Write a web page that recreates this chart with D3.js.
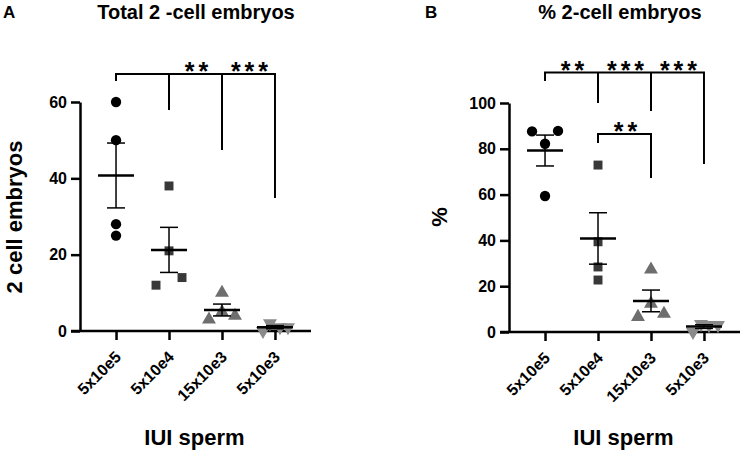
<!DOCTYPE html>
<html>
<head>
<meta charset="utf-8">
<script src="https://cdn.jsdelivr.net/npm/d3@7"></script>
<style>
  body { margin: 0; background: #fff; }
  text { font-family: "Liberation Sans", Arial, sans-serif; }
</style>
</head>
<body>
<script>
const width = 743
const height = 454

// data
const categories = ["5x10e5", "5x10e4", "15x10e3", "5x10e3"];
const totalEmbryos = [[60, 50, 28, 25], [38, 21, 12, 14], [10, 5, 3, 4], [2, 0, 1, 1]];
const pctEmbryos = [[87.6, 87.8, 82.2, 59.4], [72.9, 39.4, 28.4, 22.7], [27.3, 12.4, 6.6, 8], [0, 3.5, 3, 3]];
const ticksA = [0, 20, 40, 60];
const ticksB = [0, 20, 40, 60, 80, 100];
const sigA = [{a: 0, b: 1, label: ""}, {a: 1, b: 2, label: "**"}, {a: 2, b: 3, label: "***"}];
const sigB = [{a: 0, b: 1, label: "**"}, {a: 1, b: 2, label: "***"}, {a: 2, b: 3, label: "***"}];
const sigB2 = [{a: 1, b: 2, label: "**"}];

// layout only (px spread of overlapping points)
const jitterA = [[0, 0, 0, 0], [0, 0, -13, 13], [0, 0, -13, 13], [-5, -12, 5, 13]];
const jitterB = [[-13, 13, 0, 0], [0, 0, 0, 0], [0, 0, -13, 13], [-11, -3, 5, 14]];

const shapes = [d3.symbolCircle, d3.symbolSquare, d3.symbolTriangle, d3.symbolTriangle];
const fills = ["#000", "#383838", "#6e6e6e", "#8a8a8a"];
const sizes = [84, 80, 84, 84];

const svg = d3.select("body").append("svg")
    .attr("width", width)
    .attr("height", height);

function drawPanel(p) {
    const g = svg.append("g");

    const x = d3.scalePoint().domain(categories).range([p.left, p.right]).padding(0.68);
    const y = d3.scaleLinear().domain([0, p.max]).range([p.bottom, p.top]);

    // y axis
    const yAxis = g.append("g")
        .attr("transform", `translate(${p.left},0)`)
        .call(d3.axisLeft(y).tickValues(p.ticks).tickSize(9).tickSizeOuter(0).tickPadding(4));
    yAxis.select(".domain").attr("stroke-width", 2.5);
    yAxis.selectAll(".tick line").attr("stroke-width", 2.5);
    yAxis.selectAll(".tick text")
        .style("font-size", "16px").style("font-weight", "bold")
        .style("font-family", "Liberation Sans, Arial, sans-serif").attr("fill", "#000");

    // x axis
    const xAxis = g.append("g")
        .attr("transform", `translate(0,${p.bottom})`)
        .call(d3.axisBottom(x).tickSize(9).tickSizeOuter(0).tickFormat(""));
    xAxis.select(".domain").attr("d", `M${p.left - 9},0H${p.right}`).attr("stroke-width", 2.5);
    xAxis.selectAll(".tick line").attr("stroke-width", 2.5);

    g.selectAll(".xlab")
        .data(categories)
        .enter().append("text")
        .attr("transform", d => `translate(${x(d) + 6},${p.bottom + 27}) rotate(-45)`)
        .attr("text-anchor", "end")
        .style("font-size", "16px").style("font-weight", "bold")
        .text(d => d);

    // points
    p.values.forEach((vals, i) => {
        g.selectAll(null)
            .data(vals)
            .enter().append("path")
            .attr("d", d3.symbol().type(shapes[i]).size(sizes[i]))
            .attr("transform", (d, j) => `translate(${x(categories[i]) + p.jitter[i][j]},${y(d)})` + (i === 3 ? " rotate(180)" : ""))
            .attr("fill", fills[i]);
    });

    // mean and SEM
    p.values.forEach((vals, i) => {
        const m = d3.mean(vals);
        const sem = d3.deviation(vals) / Math.sqrt(vals.length);
        const cx = x(categories[i]);
        g.append("line").attr("x1", cx).attr("x2", cx)
            .attr("y1", y(m - sem)).attr("y2", y(m + sem))
            .attr("stroke", "#000").attr("stroke-width", 1.5);
        [m - sem, m + sem].forEach(v => {
            g.append("line").attr("x1", cx - 9).attr("x2", cx + 9)
                .attr("y1", y(v)).attr("y2", y(v))
                .attr("stroke", "#000").attr("stroke-width", 1.5);
        });
        g.append("line").attr("x1", cx - 18).attr("x2", cx + 18)
            .attr("y1", y(m)).attr("y2", y(m))
            .attr("stroke", "#000").attr("stroke-width", 2.5);
    });

    // significance brackets
    p.brackets.forEach(br => {
        const xs = categories.map(c => x(c));
        const first = br.sig[0].a;
        const last = br.sig[br.sig.length - 1].b;
        g.append("line")
            .attr("x1", xs[first] - 1).attr("x2", xs[last] + 1)
            .attr("y1", br.y).attr("y2", br.y)
            .attr("stroke", "#000").attr("stroke-width", 2);
        br.legs.forEach((yb, k) => {
            const cx = xs[first + k];
            g.append("line").attr("x1", cx).attr("x2", cx)
                .attr("y1", br.y).attr("y2", yb)
                .attr("stroke", "#000").attr("stroke-width", 2);
        });
        br.sig.forEach(s => {
            g.append("text")
                .attr("x", (xs[s.a] + xs[s.b]) / 2 + 3)
                .attr("y", br.y + 6)
                .attr("text-anchor", "middle")
                .style("font-size", "25px")
                .style("font-weight", "bold")
                .style("letter-spacing", "4px")
                .text(s.label);
        });
    });

    // titles and labels
    svg.append("text").attr("x", p.letterX).attr("y", 18)
        .style("font-size", "17px").style("font-weight", "bold").text(p.letter);
    svg.append("text").attr("x", p.titleX).attr("y", 19)
        .attr("text-anchor", "middle")
        .style("font-size", "20px").style("font-weight", "bold").text(p.title);
    svg.append("text")
        .attr("transform", `translate(${p.ylabX},217) rotate(-90)`)
        .attr("text-anchor", "middle")
        .style("font-size", "22px").style("font-weight", "bold").text(p.ylab);
    svg.append("text").attr("x", (p.left + p.right) / 2 - 1).attr("y", 445)
        .attr("text-anchor", "middle")
        .style("font-size", "22px").style("font-weight", "bold").text("IUI sperm");
}

drawPanel({
    left: 80, right: 311, top: 102, bottom: 331, max: 60, ticks: ticksA,
    values: totalEmbryos, jitter: jitterA,
    brackets: [{sig: sigA, y: 74, legs: [81, 110, 150, 198]}],
    letter: "A", letterX: 3, title: "Total 2 -cell embryos", titleX: 196,
    ylab: "2 cell embryos", ylabX: 22
});

drawPanel({
    left: 509, right: 740, top: 103, bottom: 332, max: 100, ticks: ticksB,
    values: pctEmbryos, jitter: jitterB,
    brackets: [{sig: sigB, y: 72.5, legs: [81, 103, 111, 164]},
               {sig: sigB2, y: 134, legs: [143, 178]}],
    letter: "B", letterX: 425, title: "% 2-cell embryos", titleX: 620,
    ylab: "%", ylabX: 447
});
</script>
</body>
</html>
